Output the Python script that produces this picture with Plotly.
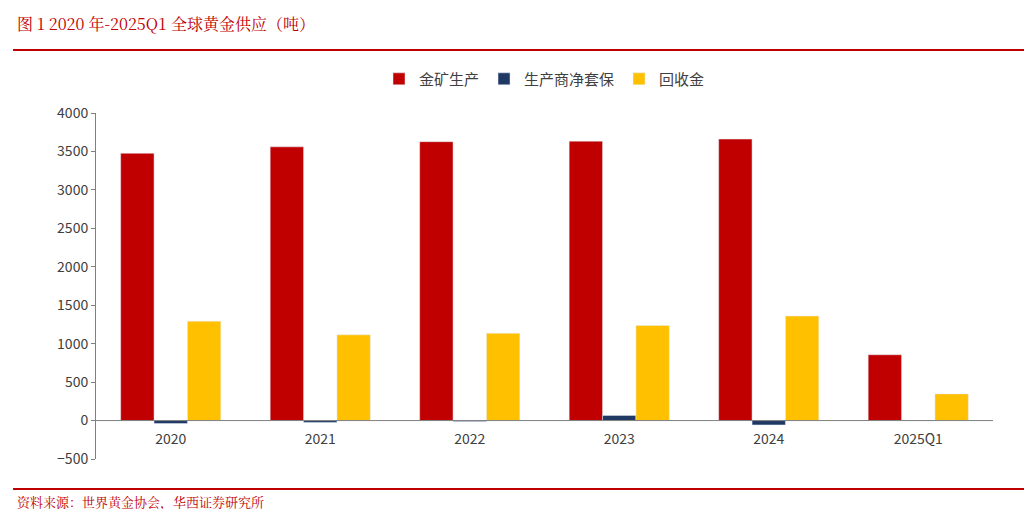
import plotly.graph_objects as go

categories = ["2020", "2021", "2022", "2023", "2024", "2025Q1"]
mine = [3476, 3560, 3627, 3634, 3661, 856]
hedge = [-39, -24, -13, 67, -57, -4]
recycle = [1293, 1115, 1136, 1237, 1360, 347]
y_ticks = [-500, 0, 500, 1000, 1500, 2000, 2500, 3000, 3500, 4000]

font_cn = "Noto Sans CJK SC"
font_serif = "Noto Serif CJK SC, Liberation Serif, serif"

fig = go.Figure()
fig.add_bar(x=categories, y=mine, name="金矿生产", marker_color="#C00000")
fig.add_bar(x=categories, y=hedge, name="生产商净套保", marker_color="#1F3864")
fig.add_bar(x=categories, y=recycle, name="回收金", marker_color="#FFC000")

fig.update_layout(
    width=1032, height=509,
    paper_bgcolor="white", plot_bgcolor="white",
    barmode="group", bargap=0.33, bargroupgap=0.0,
    margin=dict(l=88, r=47, t=105, b=58, autoexpand=False),
    font=dict(family=font_cn, size=14, color="#404040"),
    legend=dict(orientation="h", x=0.5, xanchor="center", y=1.098, yanchor="middle",
                font=dict(size=15, color="#404040"), itemwidth=30),
    showlegend=True,
    annotations=[
        dict(text="图 1 2020 年-2025Q1 全球黄金供应（吨）", xref="paper", yref="paper",
             x=-0.09, y=1.26, xanchor="left", yanchor="middle", showarrow=False,
             font=dict(family=font_serif, size=16, color="#C00000")),
        dict(text="资料来源：世界黄金协会，华西证券研究所", xref="paper", yref="paper",
             x=-0.09, y=-0.124, xanchor="left", yanchor="middle", showarrow=False,
             font=dict(family=font_serif, size=13, color="#C00000")),
    ],
    shapes=[
        dict(type="line", xref="paper", yref="paper", x0=-0.0925, x1=1.047, y0=1.182, y1=1.182,
             line=dict(color="#C00000", width=2)),
        dict(type="line", xref="paper", yref="paper", x0=-0.0925, x1=1.047, y0=-0.087, y1=-0.087,
             line=dict(color="#C00000", width=2)),
        dict(type="line", xref="paper", yref="y", x0=0, x1=1, y0=0, y1=0,
             line=dict(color="#808080", width=1)),
    ],
)
fig.update_yaxes(range=[-500, 4000], tickvals=y_ticks, showgrid=False, zeroline=False,
                 showline=True, linecolor="#808080", ticks="outside", ticklen=4,
                 tickcolor="#808080", tickfont=dict(size=14), automargin=False)
fig.update_xaxes(showline=False, ticks="", tickfont=dict(size=14), anchor="free",
                 position=0.087, automargin=False)

fig.write_html("out.html")
